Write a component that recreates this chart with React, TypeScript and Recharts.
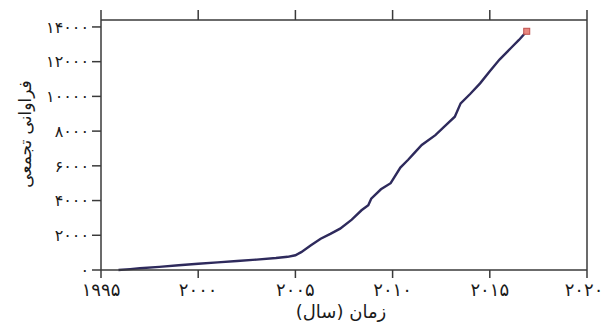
import { LineChart, Line, XAxis, YAxis } from 'recharts';

const years = [
  1995.9, 1996.5, 1997, 1998, 1999, 2000, 2001, 2002, 2003, 2004, 2004.6, 2005,
  2005.3, 2005.8, 2006.3, 2006.8, 2007.3, 2007.9, 2008.4, 2008.75, 2008.9, 2009.4,
  2009.9, 2010.4, 2010.8, 2011.1, 2011.5, 2012.2, 2012.7, 2013.2, 2013.5, 2014,
  2014.5, 2015, 2015.5, 2016.1, 2016.5, 2016.9,
];
const counts = [
  0, 50, 100, 180, 270, 360, 440, 520, 600, 690, 760, 850,
  1030, 1420, 1800, 2080, 2380, 2900, 3440, 3730, 4110, 4650,
  5000, 5900, 6350, 6720, 7200, 7770, 8300, 8830, 9600, 10150,
  10750, 11450, 12120, 12800, 13250, 13750,
];
const xTicks = [1995, 2000, 2005, 2010, 2015, 2020];
const yTicks = [0, 2000, 4000, 6000, 8000, 10000, 12000, 14000];
const xTitle = 'زمان (سال)';
const yTitle = 'فراوانی تجمعی';

const data = years.map((year, i) => ({ year, count: counts[i] }));

const faDigits = '۰۱۲۳۴۵۶۷۸۹';
const fa = (n: number) => String(n).replace(/\d/g, (d) => faDigits[+d]);

const font = '"DejaVu Sans", sans-serif';
const axisColor = '#3a3a3a';

const EndDot = (props: any) => {
  const { cx, cy, index } = props;
  if (index !== data.length - 1) return <g key={`d${index}`} />;
  return (
    <rect key={`d${index}`} x={cx - 3} y={cy - 3} width={6} height={6} fill="#e8877f" stroke="#c0504d" strokeWidth={1} />
  );
};

export default function App() {
  return (
    <div style={{ position: 'absolute', left: 0, top: 0, width: 604, height: 324, background: '#fff' }}>
      <LineChart width={604} height={324} data={data} margin={{ top: 0, right: 0, bottom: 0, left: 0 }}>
        <XAxis
          xAxisId="b"
          dataKey="year"
          type="number"
          domain={[1995, 2020]}
          ticks={xTicks}
          height={54}
          tickFormatter={fa}
          tickSize={8}
          tickMargin={5}
          stroke={axisColor}
          strokeWidth={1.5}
          tick={{ fill: '#1a1a1a', fontSize: 18, fontFamily: font }}
          label={() => (
            <text x={341} y={318} textAnchor="middle" direction="rtl" fill="#1a1a1a" fontSize={18} fontFamily={font}>
              {xTitle}
            </text>
          )}
        />
        <XAxis
          xAxisId="t"
          orientation="top"
          dataKey="year"
          type="number"
          domain={[1995, 2020]}
          ticks={xTicks}
          height={20}
          tickSize={10}
          tickFormatter={() => ''}
          stroke={axisColor}
          strokeWidth={1.5}
        />
        <YAxis
          yAxisId="l"
          type="number"
          domain={[0, 14400]}
          ticks={yTicks}
          width={101}
          tickFormatter={fa}
          tickSize={9}
          tickMargin={3}
          stroke={axisColor}
          strokeWidth={1.5}
          tick={{ fill: '#1a1a1a', fontSize: 16, fontFamily: font }}
          label={() => (
            <text
              x={25}
              y={134}
              transform="rotate(-90, 25, 134)"
              textAnchor="middle"
              dominantBaseline="central"
              direction="rtl"
              fill="#1a1a1a"
              fontSize={17}
              fontFamily={font}
            >
              {yTitle}
            </text>
          )}
        />
        <YAxis
          yAxisId="r"
          orientation="right"
          type="number"
          domain={[0, 14400]}
          ticks={yTicks}
          width={17}
          tickSize={7}
          tickFormatter={() => ''}
          stroke={axisColor}
          strokeWidth={1.5}
        />
        <Line
          xAxisId="b"
          yAxisId="l"
          type="linear"
          dataKey="count"
          stroke="#2e2a5c"
          strokeWidth={2.4}
          dot={EndDot}
          activeDot={false}
          isAnimationActive={false}
        />
      </LineChart>
    </div>
  );
}
